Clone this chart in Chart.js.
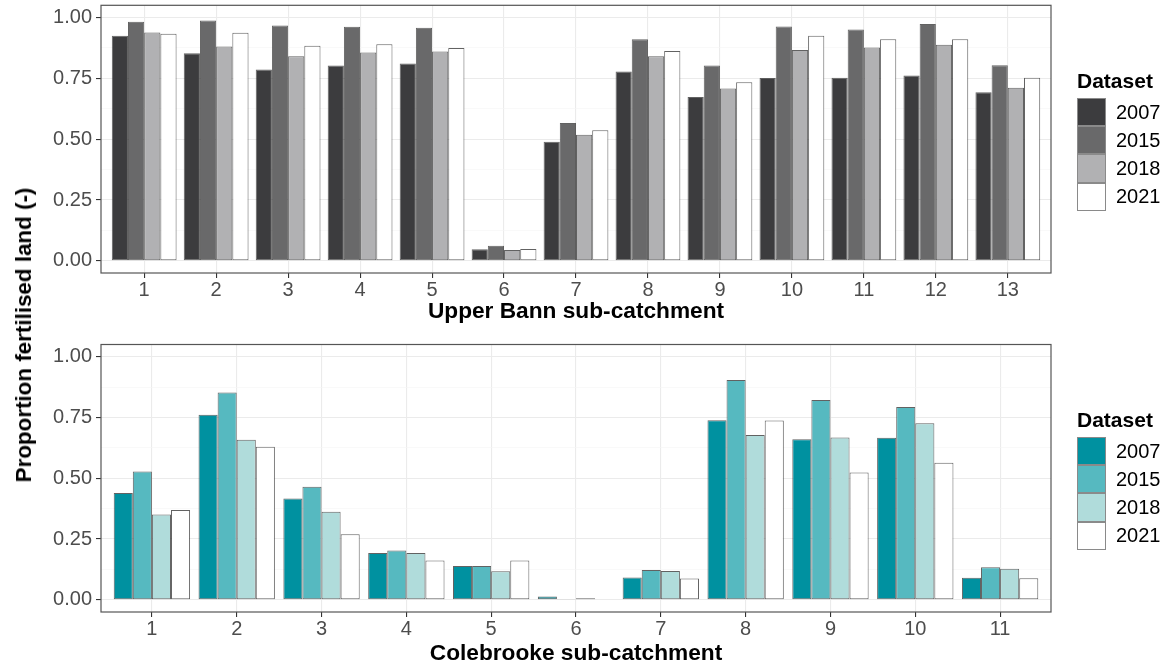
<!DOCTYPE html>
<html>
<head>
<meta charset="utf-8">
<script src="https://cdn.jsdelivr.net/npm/chart.js@4.4.1/dist/chart.umd.min.js"></script>
<style>
  html, body { margin: 0; padding: 0; background: #fff; }
  body { width: 1165px; height: 665px; position: relative; overflow: hidden; font-family: "Liberation Sans", Arial, sans-serif; }
  .chartbox { position: absolute; left: 0; width: 1165px; }
  .ytitle { position: absolute; left: 24px; top: 335px; transform: translate(-50%, -50%) rotate(-90deg); white-space: nowrap; font-weight: bold; font-size: 22.4px; color: #000; }
  .legend { position: absolute; left: 1077px; }
  .legend .ttl { font-weight: bold; font-size: 21px; color: #000; height: 24px; line-height: 24px; margin-bottom: 5px; }
  .legend .row { display: flex; align-items: center; height: 28.2px; }
  .legend .key { width: 27px; height: 26.2px; border: 1px solid #8a8a8a; box-sizing: content-box; }
  .legend .lab { margin-left: 10px; font-size: 20px; color: #000; }
</style>
</head>
<body>
<div class="chartbox" style="top:0;height:330px;"><canvas id="c1"></canvas></div>
<div class="chartbox" style="top:335px;height:330px;"><canvas id="c2"></canvas></div>
<div class="ytitle">Proportion fertilised land (-)</div>
<div class="legend" id="leg1" style="top:69px;"></div>
<div class="legend" id="leg2" style="top:408px;"></div>
<script>
// ---------- data ----------
const datasetYears = ['2007', '2015', '2018', '2021'];

const upperBannCategories = [1, 2, 3, 4, 5, 6, 7, 8, 9, 10, 11, 12, 13];
const upperBann2007 = [0.925, 0.853, 0.786, 0.803, 0.811, 0.048, 0.489, 0.778, 0.673, 0.751, 0.752, 0.762, 0.693];
const upperBann2015 = [0.982, 0.988, 0.967, 0.962, 0.958, 0.062, 0.566, 0.910, 0.803, 0.963, 0.951, 0.973, 0.804];
const upperBann2018 = [0.938, 0.881, 0.841, 0.856, 0.860, 0.045, 0.518, 0.841, 0.708, 0.866, 0.877, 0.888, 0.711];
const upperBann2021 = [0.933, 0.937, 0.884, 0.890, 0.875, 0.049, 0.537, 0.862, 0.734, 0.925, 0.910, 0.911, 0.752];

const colebrookeCategories = [1, 2, 3, 4, 5, 6, 7, 8, 9, 10, 11];
const colebrooke2007 = [0.439, 0.761, 0.417, 0.193, 0.139, 0.014, 0.092, 0.739, 0.660, 0.667, 0.091];
const colebrooke2015 = [0.528, 0.853, 0.465, 0.203, 0.139, 0.001, 0.123, 0.904, 0.822, 0.793, 0.134];
const colebrooke2018 = [0.351, 0.658, 0.362, 0.193, 0.118, 0.007, 0.119, 0.678, 0.668, 0.726, 0.128];
const colebrooke2021 = [0.369, 0.630, 0.270, 0.162, 0.162, 0.002, 0.088, 0.737, 0.524, 0.564, 0.089];

const yTickValues = [0, 0.25, 0.5, 0.75, 1.0];
const yMinorValues = [0.125, 0.375, 0.625, 0.875];

// ---------- styles ----------
const greyColors = ['#3c3c3e', '#69696a', '#b1b1b3', '#ffffff'];
const tealColors = ['#0091a0', '#56b9c0', '#b0dcdb', '#ffffff'];

const panelBorder = {
  id: 'panelBorder',
  afterDatasetsDraw(chart) {
    const a = chart.chartArea, ctx = chart.ctx;
    ctx.save();
    ctx.strokeStyle = '#555555';
    ctx.lineWidth = 1.2;
    ctx.strokeRect(a.left, a.top, a.right - a.left, a.bottom - a.top);
    ctx.restore();
  }
};

function buildChart(canvasId, cats, series, colors, xTitle, padTop, xHeight, titlePadBottom) {
  const datasets = series.map((vals, i) => ({
    label: datasetYears[i],
    data: cats.map((c, j) => ({ x: c, y: vals[j] })),
    backgroundColor: colors[i],
    borderColor: 'rgba(45,45,45,0.75)',
    borderWidth: 1,
    borderSkipped: false,
    categoryPercentage: 0.9,
    barPercentage: 1.0
  }));
  const allTicks = yTickValues.concat(yMinorValues).sort((a, b) => a - b);
  return new Chart(document.getElementById(canvasId), {
    type: 'bar',
    data: { datasets },
    plugins: [panelBorder],
    options: {
      responsive: true,
      maintainAspectRatio: false,
      animation: false,
      layout: { padding: { left: 0, right: 114, top: padTop, bottom: 0 } },
      plugins: { legend: { display: false }, tooltip: { enabled: false } },
      scales: {
        x: {
          type: 'linear',
          offset: false,
          min: cats[0] - 0.6,
          max: cats[cats.length - 1] + 0.6,
          afterBuildTicks: s => { s.ticks = cats.map(v => ({ value: v })); },
          afterFit: s => { s.height = xHeight; s.paddingLeft = 0; s.paddingRight = 0; },
          grid: { offset: false, color: '#ebebeb', lineWidth: 1.1, tickLength: 5, tickColor: '#333333', tickWidth: 1.1 },
          border: { display: false },
          ticks: { font: { family: 'Liberation Sans', size: 20 }, color: '#4d4d4d', padding: 0, autoSkip: false, maxRotation: 0, callback: v => String(v) },
          title: { display: true, text: xTitle, color: '#000', font: { family: 'Liberation Sans', size: 22.7, weight: 'bold', lineHeight: 1 }, padding: { top: 0, bottom: titlePadBottom } }
        },
        y: {
          min: -0.05,
          max: 1.05,
          afterBuildTicks: s => { s.ticks = allTicks.map(v => ({ value: v })); },
          afterFit: s => { s.width = 101; s.paddingTop = 0; s.paddingBottom = 0; },
          grid: {
            color: c => yTickValues.includes(c.tick.value) ? '#ebebeb' : '#f5f5f5',
            lineWidth: c => yTickValues.includes(c.tick.value) ? 1.1 : 0.6,
            tickLength: 5,
            tickColor: c => yTickValues.includes(c.tick.value) ? '#333333' : 'rgba(0,0,0,0)',
            tickWidth: 1.1
          },
          border: { display: false },
          ticks: {
            font: { family: 'Liberation Sans', size: 20 }, color: '#4d4d4d', padding: 4, autoSkip: false,
            callback: v => yTickValues.includes(v) ? v.toFixed(2) : ''
          }
        }
      }
    }
  });
}

buildChart('c1', upperBannCategories, [upperBann2007, upperBann2015, upperBann2018, upperBann2021], greyColors, 'Upper Bann sub-catchment', 5.3, 57, 7);
buildChart('c2', colebrookeCategories, [colebrooke2007, colebrooke2015, colebrooke2018, colebrooke2021], tealColors, 'Colebrooke sub-catchment', 9.5, 53, 0);

function buildLegend(id, colors) {
  const el = document.getElementById(id);
  let html = '<div class="ttl">Dataset</div>';
  datasetYears.forEach((y, i) => {
    html += '<div class="row"><div class="key" style="background:' + colors[i] + '"></div><div class="lab">' + y + '</div></div>';
  });
  el.innerHTML = html;
}
buildLegend('leg1', greyColors);
buildLegend('leg2', tealColors);
</script>
</body>
</html>
